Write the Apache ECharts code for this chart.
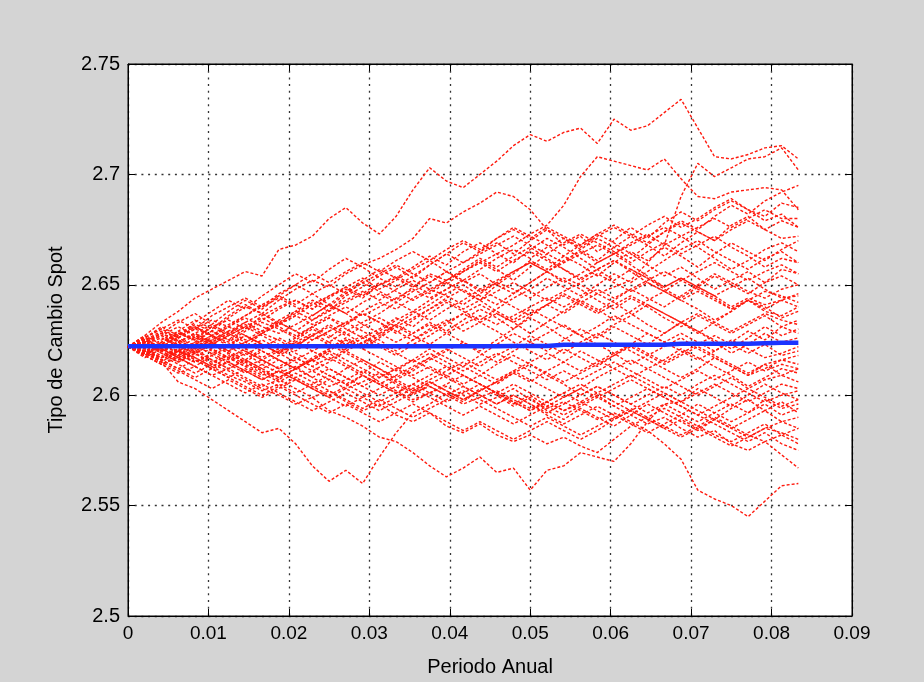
<!DOCTYPE html>
<html>
<head>
<meta charset="utf-8">
<script src="https://cdn.jsdelivr.net/npm/echarts@6/dist/echarts.min.js"></script>
<style>
html,body{margin:0;padding:0;background:#d4d4d4;}
#chart{width:924px;height:682px;}
</style>
</head>
<body>
<div id="chart"></div>
<script>
// time points (fraction of a year)
const times = [0, 0.002083, 0.004167, 0.00625, 0.008333, 0.010417, 0.0125, 0.014583, 0.016667, 0.01875,
  0.020833, 0.022917, 0.025, 0.027083, 0.029167, 0.03125, 0.033333, 0.035417, 0.0375, 0.039583,
  0.041667, 0.04375, 0.045833, 0.047917, 0.05, 0.052083, 0.054167, 0.05625, 0.058333, 0.060417,
  0.0625, 0.064583, 0.066667, 0.06875, 0.070833, 0.072917, 0.075, 0.077083, 0.079167, 0.08125, 0.083333];

const xTickLabels = ['0','0.01','0.02','0.03','0.04','0.05','0.06','0.07','0.08','0.09'];
const yTickLabels = ['2.5','2.55','2.6','2.65','2.7','2.75'];

// simulated spot-rate paths
const pathA = [2.622,2.627,2.633,2.638,2.644,2.648,2.652,2.656,2.654,2.666, 2.668,2.672,2.680,2.685,2.678,2.673,2.681,2.693,2.703,2.697, 2.694,2.700,2.706,2.713,2.718,2.715,2.719,2.721,2.714,2.725, 2.720,2.722,2.728,2.734,2.721,2.708,2.707,2.709,2.712,2.713, 2.707];
const pathB = [2.622,2.620,2.624,2.628,2.626,2.631,2.634,2.630,2.636,2.640, 2.643,2.639,2.645,2.648,2.644,2.650,2.653,2.649,2.655,2.652, 2.656,2.660,2.664,2.668,2.673,2.677,2.686,2.699,2.708,2.706, 2.704,2.702,2.707,2.698,2.690,2.689,2.692,2.693,2.694,2.693, 2.684];
const pathC = [2.622,2.625,2.621,2.618,2.623,2.627,2.624,2.629,2.633,2.630, 2.626,2.631,2.635,2.632,2.638,2.642,2.639,2.644,2.648,2.645, 2.641,2.646,2.651,2.648,2.644,2.649,2.653,2.650,2.646,2.649, 2.652,2.660,2.668,2.690,2.705,2.699,2.703,2.707,2.708,2.712, 2.702];
const pathD = [2.622,2.618,2.623,2.627,2.632,2.629,2.635,2.640,2.637,2.643, 2.648,2.652,2.649,2.655,2.659,2.662,2.666,2.671,2.680,2.678, 2.683,2.687,2.692,2.690,2.684,2.675,2.668,2.672,2.665,2.670, 2.676,2.671,2.678,2.683,2.679,2.684,2.688,2.684,2.679,2.682, 2.676];
const pathE = [2.622,2.619,2.615,2.606,2.603,2.598,2.593,2.588,2.583,2.585, 2.578,2.568,2.561,2.566,2.560,2.572,2.583,2.592,2.596,2.601, 2.597,2.603,2.600,2.595,2.599,2.593,2.589,2.594,2.590,2.586, 2.591,2.596,2.592,2.588,2.584,2.589,2.594,2.598,2.593,2.597, 2.592];
const pathF = [2.622,2.624,2.620,2.616,2.619,2.614,2.611,2.607,2.603,2.600, 2.596,2.599,2.593,2.590,2.586,2.581,2.579,2.574,2.568,2.563, 2.567,2.572,2.565,2.567,2.557,2.566,2.568,2.574,2.572,2.570, 2.578,2.588,2.596,2.597,2.603,2.599,2.595,2.600,2.605,2.601, 2.598];
const pathG = [2.622,2.620,2.617,2.621,2.616,2.612,2.615,2.619,2.614,2.610, 2.613,2.608,2.604,2.607,2.611,2.606,2.602,2.598,2.601,2.604, 2.600,2.596,2.599,2.603,2.598,2.594,2.597,2.593,2.589,2.592, 2.588,2.584,2.578,2.571,2.557,2.553,2.550,2.545,2.552,2.559, 2.560];
const pathH = [2.622,2.618,2.614,2.617,2.613,2.609,2.612,2.608,2.604,2.607, 2.603,2.599,2.602,2.597,2.593,2.596,2.591,2.588,2.592,2.586, 2.583,2.587,2.582,2.579,2.582,2.578,2.581,2.577,2.574,2.580, 2.586,2.590,2.594,2.590,2.586,2.582,2.579,2.583,2.587,2.582, 2.578];
const pathI = [2.622,2.624,2.619,2.615,2.618,2.621,2.617,2.613,2.616,2.612, 2.608,2.611,2.607,2.603,2.606,2.610,2.605,2.601,2.604,2.600, 2.596,2.599,2.602,2.598,2.594,2.597,2.593,2.596,2.600,2.595, 2.591,2.587,2.590,2.585,2.581,2.584,2.578,2.575,2.579,2.573, 2.567];
const pathM1 = [2.622,2.627,2.623,2.629,2.634,2.630,2.636,2.641,2.637,2.632, 2.638,2.643,2.640,2.646,2.651,2.647,2.643,2.649,2.654,2.650, 2.656,2.661,2.657,2.652,2.658,2.664,2.660,2.666,2.671,2.667, 2.662,2.668,2.674,2.679,2.675,2.681,2.686,2.682,2.688,2.692, 2.695];
const pathM2 = [2.622,2.618,2.623,2.628,2.625,2.631,2.627,2.622,2.628,2.633, 2.637,2.642,2.638,2.645,2.649,2.654,2.658,2.653,2.659,2.664, 2.660,2.665,2.669,2.664,2.670,2.675,2.671,2.666,2.661,2.667, 2.672,2.668,2.663,2.669,2.674,2.670,2.677,2.681,2.675,2.679, 2.676];
const pathM3 = [2.622,2.625,2.629,2.626,2.631,2.627,2.622,2.618,2.623,2.619, 2.625,2.630,2.626,2.632,2.637,2.633,2.628,2.634,2.639,2.644, 2.648,2.643,2.650,2.655,2.661,2.657,2.663,2.659,2.654,2.660, 2.665,2.661,2.667,2.663,2.658,2.664,2.669,2.665,2.661,2.666, 2.670];
const pathM4 = [2.622,2.619,2.615,2.620,2.624,2.629,2.625,2.630,2.634,2.639, 2.643,2.639,2.644,2.649,2.653,2.648,2.652,2.657,2.661,2.656, 2.651,2.655,2.650,2.646,2.651,2.656,2.661,2.665,2.660,2.664, 2.669,2.673,2.668,2.672,2.667,2.662,2.657,2.661,2.666,2.669, 2.665];
const pathM5 = [2.622,2.626,2.621,2.617,2.613,2.618,2.622,2.627,2.623,2.619, 2.624,2.620,2.616,2.621,2.626,2.630,2.635,2.631,2.637,2.642, 2.638,2.634,2.639,2.644,2.648,2.653,2.649,2.645,2.650,2.655, 2.651,2.656,2.661,2.666,2.670,2.665,2.661,2.657,2.662,2.665, 2.660];
const pathM6 = [2.622,2.624,2.628,2.633,2.637,2.632,2.638,2.643,2.639,2.645, 2.650,2.646,2.641,2.647,2.652,2.657,2.653,2.658,2.663,2.659, 2.665,2.669,2.664,2.660,2.666,2.671,2.667,2.662,2.657,2.652, 2.657,2.653,2.648,2.644,2.649,2.654,2.650,2.646,2.651,2.657, 2.655];
const pathM7 = [2.622,2.620,2.617,2.621,2.626,2.623,2.619,2.615,2.620,2.616, 2.612,2.617,2.621,2.626,2.622,2.627,2.632,2.628,2.633,2.629, 2.634,2.639,2.635,2.630,2.636,2.641,2.646,2.642,2.638,2.643, 2.648,2.644,2.640,2.645,2.650,2.655,2.651,2.647,2.644,2.648, 2.650];
const pathM8 = [2.622,2.617,2.621,2.625,2.621,2.616,2.612,2.616,2.621,2.626, 2.622,2.627,2.632,2.628,2.623,2.629,2.634,2.638,2.643,2.648, 2.652,2.647,2.651,2.656,2.660,2.656,2.651,2.655,2.660,2.664, 2.659,2.654,2.649,2.653,2.649,2.645,2.640,2.644,2.641,2.643, 2.646];
const pathM9 = [2.622,2.624,2.620,2.623,2.627,2.624,2.620,2.624,2.628,2.625, 2.620,2.625,2.629,2.633,2.629,2.625,2.620,2.625,2.630,2.634, 2.629,2.633,2.637,2.633,2.628,2.633,2.638,2.643,2.639,2.634, 2.638,2.643,2.647,2.643,2.639,2.634,2.638,2.643,2.647,2.645, 2.642];
const pathM10 = [2.622,2.621,2.618,2.614,2.610,2.614,2.619,2.615,2.611,2.607, 2.612,2.616,2.620,2.625,2.621,2.626,2.631,2.627,2.623,2.628, 2.624,2.620,2.625,2.630,2.635,2.631,2.626,2.622,2.627,2.632, 2.636,2.641,2.637,2.633,2.628,2.633,2.638,2.643,2.640,2.635, 2.638];
const pathM11 = [2.622,2.625,2.622,2.626,2.630,2.634,2.631,2.636,2.640,2.644, 2.640,2.636,2.641,2.637,2.632,2.628,2.632,2.637,2.641,2.646, 2.650,2.645,2.641,2.646,2.651,2.656,2.652,2.648,2.643,2.639, 2.644,2.640,2.635,2.631,2.636,2.632,2.628,2.632,2.636,2.631, 2.634];
const pathM12 = [2.622,2.619,2.622,2.618,2.615,2.619,2.623,2.620,2.616,2.620, 2.624,2.628,2.624,2.629,2.633,2.637,2.642,2.638,2.634,2.639, 2.643,2.648,2.644,2.640,2.636,2.641,2.637,2.642,2.646,2.642, 2.637,2.632,2.628,2.633,2.629,2.625,2.621,2.626,2.631,2.627, 2.630];
const pathM13 = [2.622,2.623,2.626,2.622,2.619,2.623,2.627,2.631,2.627,2.623, 2.619,2.615,2.619,2.614,2.610,2.615,2.611,2.616,2.621,2.617, 2.613,2.618,2.623,2.628,2.624,2.620,2.625,2.630,2.626,2.631, 2.627,2.623,2.628,2.633,2.629,2.624,2.619,2.623,2.628,2.624, 2.626];
const pathM14 = [2.622,2.620,2.624,2.628,2.625,2.629,2.625,2.621,2.617,2.621, 2.626,2.631,2.635,2.630,2.626,2.622,2.618,2.623,2.627,2.632, 2.637,2.633,2.629,2.624,2.620,2.616,2.621,2.617,2.613,2.618, 2.623,2.628,2.624,2.620,2.616,2.620,2.625,2.621,2.617,2.619, 2.622];
const pathM15 = [2.622,2.626,2.630,2.626,2.622,2.626,2.631,2.627,2.623,2.619, 2.615,2.611,2.615,2.620,2.616,2.612,2.607,2.611,2.616,2.620, 2.624,2.619,2.615,2.620,2.624,2.628,2.632,2.627,2.623,2.619, 2.614,2.618,2.622,2.626,2.621,2.617,2.613,2.609,2.614,2.616, 2.618];
const pathM16 = [2.622,2.618,2.614,2.618,2.622,2.619,2.615,2.611,2.607,2.611, 2.607,2.603,2.607,2.612,2.616,2.612,2.608,2.612,2.617,2.621, 2.617,2.613,2.618,2.622,2.627,2.623,2.619,2.624,2.628,2.624, 2.620,2.616,2.612,2.608,2.612,2.617,2.613,2.609,2.612,2.616, 2.614];
const pathM17 = [2.622,2.624,2.621,2.617,2.620,2.624,2.620,2.616,2.612,2.616, 2.612,2.608,2.612,2.608,2.604,2.600,2.604,2.600,2.605,2.609, 2.613,2.609,2.605,2.610,2.606,2.611,2.615,2.620,2.616,2.612, 2.608,2.612,2.616,2.621,2.617,2.613,2.609,2.604,2.608,2.612, 2.610];
const pathM18 = [2.622,2.620,2.623,2.619,2.615,2.618,2.614,2.610,2.614,2.618, 2.622,2.627,2.623,2.619,2.615,2.610,2.606,2.602,2.606,2.602, 2.598,2.602,2.606,2.611,2.607,2.603,2.599,2.603,2.608,2.612, 2.616,2.612,2.608,2.604,2.600,2.604,2.608,2.603,2.607,2.609, 2.606];
const pathM19 = [2.622,2.625,2.621,2.624,2.628,2.624,2.620,2.624,2.620,2.616, 2.612,2.616,2.621,2.625,2.621,2.617,2.613,2.609,2.613,2.609, 2.605,2.609,2.614,2.618,2.614,2.609,2.605,2.600,2.604,2.600, 2.596,2.600,2.604,2.600,2.605,2.609,2.605,2.601,2.597,2.600, 2.602];
const pathM20 = [2.622,2.619,2.616,2.612,2.616,2.612,2.608,2.612,2.608,2.604, 2.608,2.604,2.600,2.604,2.609,2.605,2.601,2.597,2.601,2.605, 2.609,2.605,2.601,2.596,2.600,2.595,2.591,2.595,2.599,2.603, 2.607,2.603,2.599,2.595,2.591,2.595,2.599,2.603,2.599,2.595, 2.598];
const pathM21 = [2.622,2.623,2.619,2.615,2.619,2.623,2.619,2.615,2.611,2.608, 2.612,2.616,2.612,2.608,2.604,2.608,2.612,2.616,2.612,2.608, 2.604,2.600,2.596,2.600,2.596,2.591,2.587,2.591,2.595,2.591, 2.587,2.583,2.587,2.591,2.596,2.592,2.588,2.592,2.596,2.591, 2.594];
const pathM22 = [2.622,2.620,2.617,2.620,2.617,2.613,2.609,2.606,2.602,2.605, 2.601,2.605,2.609,2.605,2.601,2.597,2.601,2.605,2.609,2.613, 2.609,2.605,2.601,2.597,2.593,2.597,2.601,2.597,2.593,2.589, 2.593,2.597,2.601,2.597,2.593,2.589,2.585,2.589,2.593,2.588, 2.590];
const pathM23 = [2.622,2.624,2.627,2.623,2.619,2.615,2.618,2.614,2.610,2.606, 2.610,2.606,2.602,2.598,2.594,2.598,2.594,2.590,2.594,2.598, 2.602,2.598,2.594,2.590,2.586,2.590,2.586,2.582,2.586,2.590, 2.594,2.590,2.586,2.582,2.586,2.590,2.586,2.582,2.579,2.582, 2.585];
const pathM24 = [2.622,2.621,2.625,2.629,2.625,2.621,2.617,2.621,2.625,2.621, 2.617,2.613,2.617,2.613,2.609,2.605,2.609,2.613,2.617,2.613, 2.609,2.605,2.601,2.605,2.601,2.597,2.593,2.597,2.601,2.597, 2.593,2.589,2.585,2.589,2.585,2.581,2.577,2.581,2.585,2.583, 2.580];
const pathM25 = [2.622,2.619,2.623,2.620,2.616,2.612,2.615,2.611,2.607,2.611, 2.607,2.603,2.599,2.603,2.599,2.595,2.599,2.603,2.599,2.595, 2.591,2.595,2.591,2.587,2.591,2.595,2.599,2.603,2.599,2.595, 2.599,2.603,2.599,2.595,2.591,2.587,2.583,2.579,2.583,2.578, 2.575];
const pathM26 = [2.622,2.626,2.631,2.627,2.633,2.638,2.643,2.639,2.645,2.650, 2.655,2.651,2.657,2.662,2.658,2.653,2.649,2.654,2.659,2.664, 2.669,2.665,2.671,2.676,2.672,2.668,2.663,2.668,2.673,2.669, 2.664,2.659,2.654,2.658,2.653,2.648,2.652,2.656,2.651,2.654, 2.650];
const pathM27 = [2.622,2.624,2.620,2.624,2.628,2.632,2.628,2.624,2.628,2.632, 2.636,2.641,2.645,2.649,2.645,2.650,2.654,2.650,2.646,2.651, 2.647,2.643,2.638,2.634,2.639,2.635,2.631,2.627,2.631,2.636, 2.632,2.628,2.624,2.628,2.624,2.620,2.624,2.629,2.625,2.631, 2.628];
const pathM28 = [2.622,2.618,2.614,2.610,2.613,2.609,2.605,2.601,2.605,2.601, 2.597,2.593,2.597,2.601,2.597,2.593,2.597,2.601,2.606,2.602, 2.598,2.602,2.606,2.610,2.614,2.610,2.606,2.610,2.614,2.618, 2.622,2.618,2.614,2.618,2.622,2.618,2.614,2.610,2.614,2.609, 2.612];
const pathM29 = [2.622,2.625,2.628,2.625,2.621,2.625,2.629,2.633,2.637,2.633, 2.629,2.634,2.638,2.642,2.646,2.651,2.647,2.643,2.647,2.652, 2.657,2.662,2.658,2.663,2.667,2.662,2.657,2.652,2.657,2.661, 2.656,2.651,2.647,2.652,2.648,2.644,2.639,2.643,2.638,2.636, 2.640];
const pathM30 = [2.622,2.619,2.622,2.626,2.630,2.627,2.631,2.635,2.631,2.628, 2.632,2.636,2.641,2.637,2.642,2.646,2.642,2.647,2.651,2.656, 2.652,2.657,2.662,2.666,2.662,2.667,2.671,2.667,2.672,2.676, 2.672,2.677,2.681,2.676,2.680,2.685,2.689,2.684,2.681,2.687, 2.685];
const pathN1 = [2.622,2.626,2.630,2.634,2.630,2.636,2.640,2.644,2.640,2.646, 2.650,2.655,2.651,2.656,2.660,2.656,2.661,2.665,2.661,2.666, 2.670,2.666,2.671,2.675,2.671,2.676,2.672,2.668,2.673,2.677, 2.673,2.669,2.674,2.678,2.674,2.670,2.675,2.679,2.675,2.671, 2.672];
const pathN2 = [2.622,2.618,2.622,2.627,2.631,2.627,2.632,2.636,2.641,2.645, 2.641,2.646,2.650,2.646,2.651,2.655,2.659,2.655,2.651,2.656, 2.660,2.664,2.668,2.672,2.668,2.664,2.669,2.673,2.669,2.665, 2.660,2.665,2.669,2.664,2.668,2.672,2.667,2.663,2.658,2.662, 2.660];
const pathN3 = [2.622,2.620,2.616,2.612,2.608,2.612,2.608,2.604,2.600,2.604, 2.600,2.596,2.592,2.596,2.592,2.588,2.592,2.596,2.592,2.588, 2.584,2.588,2.584,2.580,2.584,2.588,2.584,2.580,2.584,2.589, 2.593,2.589,2.585,2.581,2.585,2.589,2.585,2.581,2.585,2.588, 2.585];
const pathN4 = [2.622,2.624,2.628,2.624,2.620,2.624,2.628,2.633,2.629,2.634, 2.638,2.634,2.639,2.643,2.647,2.643,2.648,2.652,2.648,2.652, 2.656,2.660,2.656,2.661,2.665,2.661,2.657,2.653,2.657,2.661, 2.657,2.653,2.649,2.653,2.649,2.645,2.649,2.653,2.648,2.644, 2.645];
const pathN5 = [2.622,2.621,2.617,2.621,2.617,2.613,2.617,2.613,2.609,2.613, 2.617,2.613,2.609,2.605,2.609,2.605,2.601,2.605,2.601,2.597, 2.601,2.605,2.601,2.597,2.593,2.597,2.601,2.605,2.601,2.605, 2.609,2.605,2.601,2.597,2.601,2.605,2.601,2.597,2.601,2.605, 2.603];
const pathN6 = [2.622,2.625,2.621,2.617,2.621,2.625,2.629,2.625,2.629,2.633, 2.629,2.625,2.629,2.633,2.637,2.633,2.629,2.625,2.629,2.633, 2.637,2.641,2.637,2.633,2.637,2.641,2.645,2.641,2.637,2.641, 2.645,2.641,2.637,2.633,2.637,2.633,2.629,2.633,2.637,2.634, 2.632];
const pathN7 = [2.622,2.619,2.615,2.611,2.607,2.603,2.607,2.603,2.599,2.603, 2.607,2.603,2.599,2.595,2.599,2.603,2.607,2.603,2.607,2.611, 2.615,2.611,2.607,2.611,2.615,2.619,2.615,2.611,2.615,2.619, 2.623,2.619,2.615,2.619,2.623,2.627,2.623,2.619,2.623,2.618, 2.620];
const pathN8 = [2.622,2.624,2.620,2.624,2.628,2.624,2.628,2.632,2.628,2.632, 2.636,2.632,2.636,2.640,2.636,2.640,2.644,2.648,2.644,2.648, 2.652,2.648,2.652,2.656,2.660,2.656,2.660,2.664,2.668,2.664, 2.668,2.672,2.676,2.672,2.676,2.680,2.676,2.680,2.684,2.680, 2.680];
const pathN9 = [2.622,2.620,2.623,2.619,2.623,2.627,2.623,2.627,2.623,2.619, 2.623,2.627,2.631,2.627,2.631,2.635,2.631,2.635,2.639,2.643, 2.639,2.643,2.647,2.651,2.647,2.643,2.647,2.651,2.655,2.651, 2.647,2.651,2.647,2.643,2.647,2.643,2.639,2.643,2.639,2.643, 2.640];
const pathN10 = [2.622,2.624,2.620,2.616,2.620,2.616,2.612,2.616,2.612,2.608, 2.612,2.616,2.620,2.616,2.612,2.608,2.612,2.608,2.604,2.600, 2.604,2.600,2.596,2.600,2.596,2.592,2.596,2.600,2.604,2.600, 2.596,2.592,2.596,2.592,2.588,2.592,2.596,2.592,2.598,2.594, 2.596];
const pathN11 = [2.622,2.620,2.616,2.620,2.624,2.620,2.616,2.620,2.616,2.612, 2.616,2.620,2.624,2.620,2.624,2.628,2.624,2.628,2.632,2.628, 2.632,2.636,2.632,2.636,2.640,2.644,2.640,2.644,2.648,2.644, 2.648,2.652,2.656,2.652,2.656,2.660,2.656,2.652,2.656,2.659, 2.655];
const pathN12 = [2.622,2.623,2.627,2.631,2.627,2.623,2.627,2.631,2.635,2.631, 2.627,2.631,2.627,2.623,2.627,2.623,2.619,2.615,2.619,2.615, 2.611,2.615,2.619,2.615,2.611,2.607,2.611,2.607,2.611,2.615, 2.611,2.607,2.603,2.607,2.611,2.607,2.611,2.615,2.611,2.614, 2.612];

// mean path (blue)
const meanPath = [2.6222,2.6222,2.6222,2.6222,2.6222,2.6222,2.6222,2.6222,2.6222,2.6222, 2.6222,2.6222,2.6222,2.6222,2.6222,2.6222,2.6222,2.6222,2.6222,2.6222, 2.6222,2.6222,2.6222,2.6223,2.6223,2.6223,2.6228,2.6228,2.6228,2.6228, 2.6228,2.6228,2.6229,2.6233,2.6233,2.6233,2.6233,2.6233,2.6235,2.6237, 2.6237];

const paths = [pathA,pathB,pathC,pathD,pathE,pathF,pathG,pathH,pathI,
  pathM1,pathM2,pathM3,pathM4,pathM5,pathM6,pathM7,pathM8,pathM9,pathM10,
  pathM11,pathM12,pathM13,pathM14,pathM15,pathM16,pathM17,pathM18,pathM19,pathM20,
  pathM21,pathM22,pathM23,pathM24,pathM25,pathM26,pathM27,pathM28,pathM29,pathM30,
  pathN1,pathN2,pathN3,pathN4,pathN5,pathN6,pathN7,pathN8,pathN9,pathN10,pathN11,pathN12];

const FONT = "'Liberation Sans', Arial, Helvetica, sans-serif";
const chart = echarts.init(document.getElementById('chart'), null, {renderer: 'canvas'});

const redSeries = paths.map((p, i) => ({
  name: 'Trayectoria ' + (i + 1),
  type: 'line',
  xAxisIndex: 0, yAxisIndex: 0,
  data: times.map((t, k) => [t, p[k]]),
  symbol: 'none',
  silent: true,
  lineStyle: {color: '#ff1a0e', width: 1.4, type: [3, 2]},
  z: 2
}));

const blueSeries = {
  name: 'Media',
  type: 'line',
  xAxisIndex: 0, yAxisIndex: 0,
  data: times.map((t, k) => [t, meanPath[k]]),
  symbol: 'none',
  silent: true,
  lineStyle: {color: '#1a33ff', width: 4.5},
  z: 3
};

const gridDots = {show: true, lineStyle: {color: '#333', width: 1.3, type: [2, 4.7]}};
const tickStyle = {show: true, inside: true, length: 7, lineStyle: {color: '#000', width: 1}};

chart.setOption({
  backgroundColor: '#d4d4d4',
  animation: false,
  grid: {left: 128, top: 64, width: 724, height: 555, show: true, backgroundColor: '#ffffff', borderColor: '#000', borderWidth: 1},
  xAxis: [{
    type: 'value', position: 'bottom', min: 0, max: 0.09, interval: 0.01,
    axisLine: {show: true, onZero: false, lineStyle: {color: '#000', width: 1}},
    axisTick: tickStyle,
    axisLabel: {color: '#000', fontSize: 19, fontFamily: FONT, margin: 8,
      formatter: (v) => xTickLabels[Math.round(v / 0.01)]},
    splitLine: gridDots,
    name: 'Periodo Anual', nameLocation: 'middle', nameGap: 41,
    nameTextStyle: {color: '#000', fontSize: 20, fontFamily: FONT}
  }, {
    type: 'value', position: 'top', min: 0, max: 0.09, interval: 0.01,
    axisLine: {show: true, onZero: false, lineStyle: {color: '#000', width: 1}},
    axisTick: tickStyle, axisLabel: {show: false}, splitLine: {show: false}
  }],
  yAxis: [{
    type: 'value', position: 'left', min: 2.5, max: 2.75, interval: 0.05,
    axisLine: {show: true, onZero: false, lineStyle: {color: '#000', width: 1}},
    axisTick: tickStyle,
    axisLabel: {color: '#000', fontSize: 20, fontFamily: FONT, margin: 8,
      formatter: (v) => yTickLabels[Math.round((v - 2.5) / 0.05)]},
    splitLine: gridDots,
    name: 'Tipo de Cambio Spot', nameLocation: 'middle', nameGap: 62,
    nameTextStyle: {color: '#000', fontSize: 20, fontFamily: FONT}
  }, {
    type: 'value', position: 'right', min: 2.5, max: 2.75, interval: 0.05,
    axisLine: {show: true, onZero: false, lineStyle: {color: '#000', width: 1}},
    axisTick: tickStyle, axisLabel: {show: false}, splitLine: {show: false}
  }],
  series: redSeries.concat([blueSeries])
});
</script>
</body>
</html>
